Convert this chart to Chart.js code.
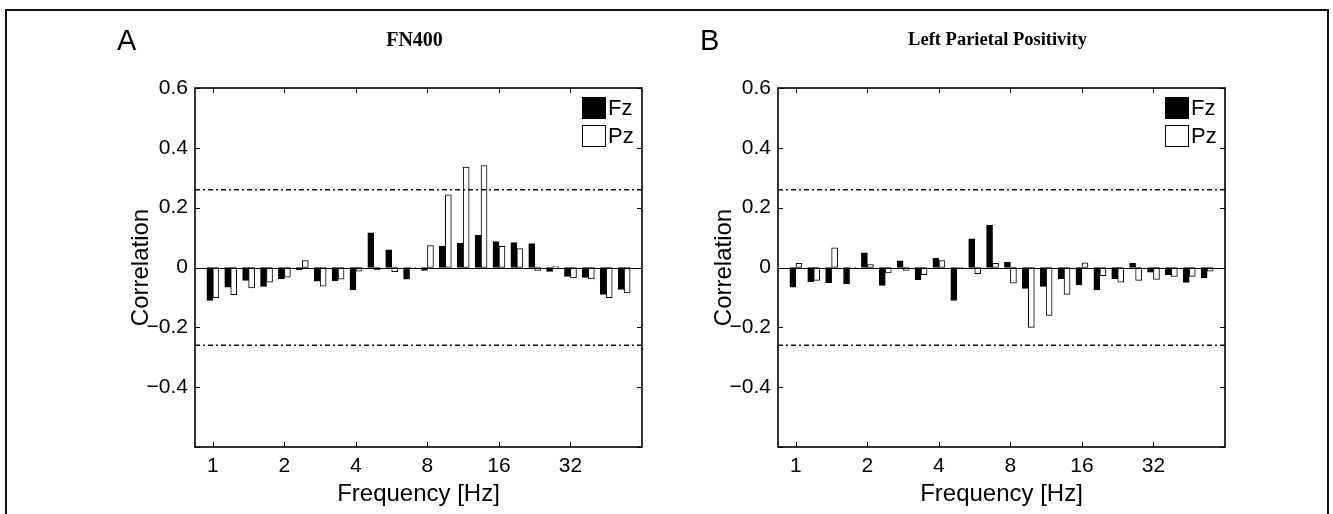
<!DOCTYPE html>
<html>
<head>
<meta charset="utf-8">
<script src="https://cdn.jsdelivr.net/npm/chart.js@4.4.0/dist/chart.umd.min.js"></script>
<style>
  body { margin: 0; background: #fff; width: 1333px; height: 514px; overflow: hidden; position: relative;
         font-family: "Liberation Sans", Arial, sans-serif; color: #000; }
  .frame { position: absolute; left: 5px; top: 9px; width: 1320px; height: 530px; border: 2px solid #111; }
  canvas { position: absolute; top: 0; }
  .letter { position: absolute; font-size: 29px; line-height: 29px; top: 26px; }
  .title { position: absolute; top: 29px; font-family: "Liberation Serif", serif; font-weight: bold;
           line-height: 20px; transform: translateX(-50%); white-space: nowrap; }
  .legend { position: absolute; top: 97px; font-size: 22px; }
  .legend .row { display: flex; align-items: center; height: 22px; margin-bottom: 6px; }
  .legend .box { width: 22px; height: 20px; border: 1px solid #000; margin-right: 2px; }
</style>
</head>
<body>
<div class="frame"></div>
<canvas id="chartA" width="666" height="514" style="left:0px"></canvas>
<canvas id="chartB" width="666" height="514" style="left:583px"></canvas>

<script>
// frequencies of the bar groups (Hz), quarter-octave steps
const freqs = [1, 1.189, 1.414, 1.682, 2, 2.378, 2.828, 3.364, 4, 4.757, 5.657, 6.727,
               8, 9.514, 11.31, 13.45, 16, 19.03, 22.63, 26.91, 32, 38.05, 45.25, 53.82];
const seriesNames = ["Fz", "Pz"];
const seriesColors = ["#000000", "#ffffff"];

// panel A - FN400
const fzA = [-0.110, -0.066, -0.043, -0.063, -0.038, -0.007, -0.046, -0.045, -0.075, 0.116, 0.059, -0.039,
             -0.010, 0.071, 0.081, 0.108, 0.087, 0.083, 0.080, -0.013, -0.030, -0.033, -0.090, -0.073];
const pzA = [-0.101, -0.091, -0.068, -0.049, -0.032, 0.023, -0.062, -0.039, -0.012, -0.008, -0.014, -0.002,
             0.073, 0.243, 0.336, 0.341, 0.071, 0.063, -0.010, 0.003, -0.035, -0.038, -0.101, -0.085];

// panel B - Left Parietal Positivity
const fzB = [-0.066, -0.047, -0.051, -0.055, 0.049, -0.060, 0.022, -0.041, 0.031, -0.110, 0.096, 0.142,
             0.017, -0.070, -0.063, -0.037, -0.058, -0.075, -0.037, 0.014, -0.016, -0.024, -0.050, -0.035];
const pzB = [0.014, -0.043, 0.066, 0.001, 0.010, -0.018, -0.010, -0.024, 0.023, -0.004, -0.021, 0.014,
             -0.052, -0.200, -0.160, -0.090, 0.016, -0.027, -0.049, -0.043, -0.040, -0.030, -0.030, -0.012];

const threshold = 0.26;
const xLimits = [0.8409, 64];   // Hz
const xTickValues = [1, 2, 4, 8, 16, 32];
const xTickLabels = ["1", "2", "4", "8", "16", "32"];
const yTickValues = [-0.6, -0.4, -0.2, 0, 0.2, 0.4, 0.6];
const yTickLabels = ["", "\u22120.4", "\u22120.2", "0", "0.2", "0.4", "0.6"];

const panels = [
  { canvas: "chartA", left: 0,   letter: "A", title: "FN400", titleSize: 20 },
  { canvas: "chartB", left: 583, letter: "B", title: "Left Parietal Positivity", titleSize: 18.5 }
];
panels[0].fz = fzA; panels[0].pz = pzA;
panels[1].fz = fzB; panels[1].pz = pzB;

const tickFont = { family: "'Liberation Sans', Arial, sans-serif", size: 21 };
const labelFont = { family: "'Liberation Sans', Arial, sans-serif", size: 24 };

// box around the axes, inward ticks and zero baseline (matlab style)
const axesBox = {
  id: "axesBox",
  afterDatasetsDraw(chart) {
    const { ctx, chartArea: a, scales: { x, y } } = chart;
    ctx.save();
    ctx.strokeStyle = "#000";
    ctx.lineWidth = 1;
    const y0 = Math.round(y.getPixelForValue(0)) + 0.5;
    ctx.beginPath();
    ctx.moveTo(a.left, y0);
    ctx.lineTo(a.right, y0);
    ctx.stroke();

    ctx.lineWidth = 1.6;
    ctx.strokeRect(a.left, a.top, a.right - a.left, a.bottom - a.top);
    ctx.lineWidth = 1;
    ctx.beginPath();
    x.ticks.forEach(t => {
      const px = Math.round(x.getPixelForValue(t.value)) + 0.5;
      ctx.moveTo(px, a.bottom); ctx.lineTo(px, a.bottom - 5);
      ctx.moveTo(px, a.top); ctx.lineTo(px, a.top + 5);
    });
    y.ticks.forEach(t => {
      const py = Math.round(y.getPixelForValue(t.value)) + 0.5;
      ctx.moveTo(a.left, py); ctx.lineTo(a.left + 5, py);
      ctx.moveTo(a.right, py); ctx.lineTo(a.right - 5, py);
    });
    ctx.stroke();
    ctx.restore();
  }
};

function makePanel(p) {
  const xs = freqs.map(f => Math.log2(f));
  const xMin = Math.log2(xLimits[0]), xMax = Math.log2(xLimits[1]);
  const bars = [p.fz, p.pz].map((vals, i) => ({
    type: "bar",
    label: seriesNames[i],
    data: vals.map((v, j) => ({ x: xs[j], y: v })),
    backgroundColor: seriesColors[i],
    borderColor: "#000",
    borderWidth: 1,
    borderSkipped: false,
    barThickness: 6,
    order: 1
  }));
  const lines = [threshold, -threshold].map(t => ({
    type: "line",
    label: "p < .05",
    data: [{ x: xMin, y: t }, { x: xMax, y: t }],
    borderColor: "#111",
    borderWidth: 1.5,
    borderDash: [5, 3, 2, 3],
    pointRadius: 0,
    order: 0
  }));

  new Chart(document.getElementById(p.canvas), {
    type: "bar",
    data: { datasets: bars.concat(lines) },
    options: {
      responsive: false,
      animation: false,
      devicePixelRatio: 1,
      layout: { padding: { left: 127, top: 88, right: 24, bottom: 0 } },
      plugins: { legend: { display: false }, tooltip: { enabled: false } },
      scales: {
        x: {
          type: "linear",
          offset: false,
          min: xMin,
          max: xMax,
          grid: { display: false, drawTicks: false },
          border: { display: false },
          afterBuildTicks: s => { s.ticks = xTickValues.map(v => ({ value: Math.log2(v) })); },
          afterFit: s => { s.height = 67; },
          ticks: {
            autoSkip: false, maxRotation: 0, padding: 7, color: "#000", font: tickFont,
            callback: (v, i) => xTickLabels[i]
          },
          title: { display: true, text: "Frequency [Hz]", color: "#000", font: labelFont, padding: { top: 0, bottom: 5 } }
        },
        y: {
          min: -0.6,
          max: 0.6,
          grid: { display: false, drawTicks: false },
          border: { display: false },
          afterBuildTicks: s => { s.ticks = yTickValues.map(v => ({ value: v })); },
          afterFit: s => { s.width = 68; },
          ticks: {
            autoSkip: false, padding: 7, color: "#000", font: tickFont,
            callback: (v, i) => yTickLabels[i]
          },
          title: { display: true, text: "Correlation", color: "#000", font: labelFont, padding: 0 }
        }
      }
    },
    plugins: [axesBox]
  });

  // panel letter, title and legend
  const areaLeft = p.left + 195, areaRight = p.left + 642;
  const letter = document.createElement("div");
  letter.className = "letter";
  letter.style.left = (p.left + 117) + "px";
  letter.textContent = p.letter;
  document.body.appendChild(letter);

  const title = document.createElement("div");
  title.className = "title";
  title.style.left = ((areaLeft + areaRight) / 2 - 4) + "px";
  title.style.fontSize = p.titleSize + "px";
  title.textContent = p.title;
  document.body.appendChild(title);

  const legend = document.createElement("div");
  legend.className = "legend";
  legend.style.left = (p.left + 582) + "px";
  seriesNames.forEach((name, i) => {
    const row = document.createElement("div");
    row.className = "row";
    row.innerHTML = '<div class="box" style="background:' + seriesColors[i] + '"></div><span>' + name + '</span>';
    legend.appendChild(row);
  });
  document.body.appendChild(legend);
}

panels.forEach(makePanel);
</script>
</body>
</html>
